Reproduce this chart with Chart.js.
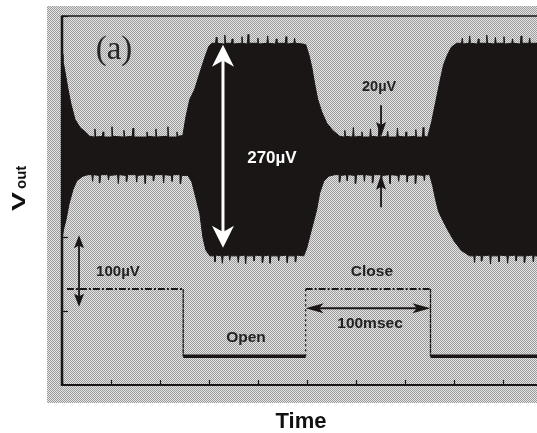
<!DOCTYPE html>
<html>
<head>
<meta charset="utf-8">
<script src="https://cdn.jsdelivr.net/npm/chart.js@4/dist/chart.umd.min.js"></script>
<style>
  html, body { margin: 0; padding: 0; background: #fff; overflow: hidden; }
  #wrap { width: 537px; height: 433px; }
</style>
</head>
<body>
<div id="wrap"><canvas id="scope" width="537" height="433"></canvas></div>
<script>
// Output noise envelope, upper edge: [time ms, voltage uV]
const upperEdge = [
  [0,448],[0.8,439],[2.4,425],[4.9,401],[7.3,381],[10.6,360],[14.7,349],[19.6,342],[22.5,337],
  [26.3,336],[26.9,347],[27.5,336],[32.9,337],[33.5,343],[34.1,336],[40.2,336],[40.8,350],[41.4,337],
  [50.0,336],[50.6,345],[51.2,336],[57.4,337],[58.0,348],[58.6,336],[68.8,336],[69.4,343],[70.0,337],
  [76.1,336],[76.7,347],[77.3,336],[85.9,337],[86.5,350],[87.1,336],[93.3,336],[93.9,343],[94.5,337],[98.7,338],
  [101.2,363],[104.4,387],[108.5,401],[112.6,423],[116.7,444],[120.0,459],[122.4,463],
  [125.4,463],[126.0,471],[126.6,463],[132.4,462],[133.0,474],[133.6,463],[138.4,463],[139.0,469],[139.6,462],
  [146.4,463],[147.0,472],[147.6,463],[151.4,462],[152.0,475],[152.6,463],[159.4,463],[160.0,470],[160.6,462],
  [167.4,463],[168.0,473],[168.6,463],[174.4,462],[175.0,469],[175.6,463],[182.4,463],[183.0,472],[183.6,462],
  [189.4,463],[190.0,470],[190.6,463],[196.7,462],
  [199.1,461],[201.6,448],[204.0,431],[206.4,408],[208.9,387],[212.2,370],[216.2,355],[221.1,345],[226.8,337],
  [230.4,336],[231.0,345],[231.6,337],[237.4,336],[238.0,349],[238.6,336],[244.4,337],[245.0,343],[245.6,336],
  [251.4,336],[252.0,347],[252.6,337],[258.4,336],[259.0,350],[259.6,336],[265.4,337],[266.0,344],[266.6,336],
  [273.4,336],[274.0,348],[274.6,337],[280.4,336],[281.0,343],[281.6,336],[288.4,337],[289.0,346],[289.6,336],
  [294.4,336],[295.0,349],[295.6,337],[298.7,336],
  [302.0,357],[305.2,383],[308.4,409],[311.7,434],[315.0,448],[318.2,458],[322.3,463],
  [326.4,463],[327.0,470],[327.6,462],[332.4,463],[333.0,473],[333.6,463],[339.4,462],[340.0,469],[340.6,463],
  [346.4,463],[347.0,474],[347.6,463],[353.4,462],[354.0,471],[354.6,463],[360.4,463],[361.0,472],[361.6,462],
  [367.4,463],[368.0,469],[368.6,463],[374.4,462],[375.0,473],[375.6,463],[381.4,463],[382.0,470],[382.6,463],[388,463]
];

// Output noise envelope, lower edge: [time ms, voltage uV]
const lowerEdge = [
  [0,200],[1.6,213],[3.3,224],[5.7,245],[9.0,265],[12.2,277],[17.1,283],[21.2,285],
  [24.4,285],[25.0,276],[25.6,285],[30.4,284],[31.0,274],[31.6,285],[37.4,285],[38.0,278],[38.6,284],
  [45.4,285],[46.0,273],[46.6,285],[52.4,284],[53.0,276],[53.6,285],[60.4,285],[61.0,275],[61.6,284],
  [67.4,285],[68.0,273],[68.6,285],[74.4,284],[75.0,277],[75.6,285],[82.4,285],[83.0,274],[83.6,285],
  [89.4,284],[90.0,276],[90.6,285],[96.4,285],[97.0,273],[97.6,284],[102.8,284],
  [106.1,275],[109.3,254],[112.6,232],[115.1,200],[117.5,183],[120.8,175],
  [124.4,175],[125.0,167],[125.6,176],[130.4,175],[131.0,165],[131.6,175],[136.4,176],[137.0,169],[137.6,175],
  [143.4,175],[144.0,166],[144.6,175],[149.4,176],[150.0,164],[150.6,175],[156.4,175],[157.0,168],[157.6,176],
  [163.4,175],[164.0,166],[164.6,175],[169.4,176],[170.0,165],[170.6,175],[176.4,175],[177.0,168],[177.6,175],
  [183.4,176],[184.0,166],[184.6,175],[190.4,175],[191.0,167],[191.6,176],[197.5,175],
  [200.0,186],[202.4,202],[205.6,222],[208.1,238],[210.5,260],[213.8,276],[217.9,283],[222.8,285],
  [226.4,285],[227.0,275],[227.6,284],[232.4,285],[233.0,277],[233.6,285],[239.4,284],[240.0,273],[240.6,285],
  [246.4,285],[247.0,276],[247.6,285],[253.4,284],[254.0,274],[254.6,285],[260.4,285],[261.0,278],[261.6,284],
  [267.4,285],[268.0,273],[268.6,285],[274.4,284],[275.0,276],[275.6,285],[281.4,285],[282.0,275],[282.6,284],
  [288.4,285],[289.0,273],[289.6,285],[295.4,284],[296.0,277],[296.6,285],[300.3,285],
  [302.8,270],[305.2,251],[307.6,235],[311.7,221],[315.8,208],[320.7,194],[326.4,182],[333.0,175],
  [336.4,175],[337.0,166],[337.6,176],[342.4,175],[343.0,168],[343.6,175],[349.4,176],[350.0,164],[350.6,175],
  [356.4,175],[357.0,167],[357.6,176],[363.4,175],[364.0,165],[364.6,175],[370.4,176],[371.0,168],[371.6,175],
  [377.4,175],[378.0,166],[378.6,175],[384.4,176],[385.0,167],[385.6,175],[388,175]
];

// Valve drive signal (Close = high level, Open = low level)
const pulseTime = [4, 99, 99, 199, 199, 301, 301, 388];
const pulseVolt = [130, 130, 39, 39, 130, 130, 39, 39];
const HIGH_LEVEL = 130;

// Axis divisions
const timeTicks = [0, 40, 80, 120, 160, 200, 240, 280, 320, 360];
const voltTicks = [100, 200, 300, 400, 500];

const INK = '#1b1616';

// closed outline of the noise band: upper edge left to right, lower edge back
const bandPoints = upperEdge.map(([t, v]) => ({ x: t, y: v }))
  .concat(lowerEdge.map(([t, v]) => ({ x: t, y: v })).reverse());
const pulsePoints = pulseTime.map((t, i) => ({ x: t, y: pulseVolt[i] }));

// halftone screen used for the paper background
function halftone(ctx) {
  const c = document.createElement('canvas');
  c.width = 2; c.height = 2;
  const g = c.getContext('2d');
  g.fillStyle = '#e4e4e4'; g.fillRect(0, 0, 2, 2);
  g.fillStyle = '#9c9c9c'; g.fillRect(0, 0, 1, 1); g.fillRect(1, 1, 1, 1);
  return ctx.createPattern(c, 'repeat');
}

function arrowHead(ctx, tx, ty, dx, dy, len, half, notch, color) {
  const bx = tx - dx * len, by = ty - dy * len;
  const px = -dy, py = dx;
  ctx.beginPath();
  ctx.moveTo(tx, ty);
  ctx.lineTo(bx + px * half, by + py * half);
  ctx.lineTo(tx - dx * len * (1 - notch), ty - dy * len * (1 - notch));
  ctx.lineTo(bx - px * half, by - py * half);
  ctx.closePath();
  ctx.fillStyle = color;
  ctx.fill();
}

function arrow(ctx, x1, y1, x2, y2, o) {
  const L = Math.hypot(x2 - x1, y2 - y1);
  const dx = (x2 - x1) / L, dy = (y2 - y1) / L;
  const s1 = o.both ? o.len * 0.7 : 0;
  ctx.beginPath();
  ctx.moveTo(x1 + dx * s1, y1 + dy * s1);
  ctx.lineTo(x2 - dx * o.len * 0.7, y2 - dy * o.len * 0.7);
  ctx.strokeStyle = o.color;
  ctx.lineWidth = o.width;
  ctx.stroke();
  arrowHead(ctx, x2, y2, dx, dy, o.len, o.half, o.notch, o.color);
  if (o.both) arrowHead(ctx, x1, y1, -dx, -dy, o.len, o.half, o.notch, o.color);
}

const scopePlugin = {
  id: 'scopeDecor',
  beforeDraw(chart) {
    const ctx = chart.ctx;
    ctx.save();
    ctx.fillStyle = halftone(ctx);
    ctx.fillRect(47, 6, 490, 397);
    ctx.restore();
  },
  beforeDatasetsDraw(chart) {
    const { ctx, chartArea: a, scales: { x, y } } = chart;
    ctx.save();
    ctx.strokeStyle = INK;
    ctx.lineWidth = 1.5;
    ctx.beginPath(); ctx.moveTo(a.left, a.top); ctx.lineTo(a.right, a.top); ctx.stroke();
    ctx.lineWidth = 2;
    ctx.beginPath(); ctx.moveTo(a.left - 1, a.bottom); ctx.lineTo(a.right, a.bottom); ctx.stroke();
    ctx.lineWidth = 1.2;
    timeTicks.forEach(t => {
      const px = Math.round(x.getPixelForValue(t)) + 0.5;
      ctx.beginPath(); ctx.moveTo(px, a.bottom); ctx.lineTo(px, a.bottom - 5); ctx.stroke();
    });
    voltTicks.forEach(v => {
      const py = Math.round(y.getPixelForValue(v)) + 0.5;
      ctx.beginPath(); ctx.moveTo(a.left, py); ctx.lineTo(a.left + 6, py); ctx.stroke();
    });
    ctx.restore();
  },
  afterDatasetsDraw(chart) {
    const { ctx, chartArea: a, scales: { x, y } } = chart;
    const X = t => x.getPixelForValue(t), Y = v => y.getPixelForValue(v);
    ctx.save();
    // left frame edge
    ctx.strokeStyle = INK;
    ctx.lineWidth = 2.5;
    ctx.beginPath(); ctx.moveTo(a.left, a.top - 0.5); ctx.lineTo(a.left, a.bottom + 1); ctx.stroke();

    // open-state amplitude
    arrow(ctx, X(131.5), Y(186), X(131.5), Y(461),
      { color: '#ffffff', width: 3, len: 22, half: 11, notch: 0.28, both: true });
    // closed-state amplitude
    arrow(ctx, X(260.6), Y(379), X(260.6), Y(336), { color: INK, width: 1.8, len: 15, half: 5, notch: 0.2 });
    arrow(ctx, X(260.6), Y(241), X(260.6), Y(285), { color: INK, width: 1.8, len: 15, half: 5, notch: 0.2 });
    // 100 uV scale bar
    arrow(ctx, X(13.9), Y(106), X(13.9), Y(203), { color: INK, width: 1.8, len: 13, half: 5, notch: 0.2, both: true });
    // 100 ms scale bar
    arrow(ctx, X(199), Y(104), X(301), Y(104), { color: INK, width: 2, len: 18, half: 5, notch: 0.25, both: true });

    ctx.textAlign = 'center';
    ctx.textBaseline = 'middle';
    ctx.fillStyle = '#ffffff';
    ctx.font = 'bold 17px "Liberation Sans", Arial, sans-serif';
    ctx.fillText('270\u00b5V', X(171.5), Y(307));
    ctx.fillStyle = '#222';
    ctx.font = 'bold 14.5px "Liberation Sans", Arial, sans-serif';
    ctx.fillText('20\u00b5V', X(259), Y(404));
    ctx.font = 'bold 15px "Liberation Sans", Arial, sans-serif';
    ctx.fillText('100\u00b5V', X(45.7), Y(153));
    ctx.font = 'bold 15.5px "Liberation Sans", Arial, sans-serif';
    ctx.fillText('Open', X(150.3), Y(64));
    ctx.fillText('Close', X(253.2), Y(153));
    ctx.fillText('100msec', X(251.6), Y(83));

    ctx.font = '33px "Liberation Serif", "Times New Roman", serif';
    ctx.fillStyle = '#262626';
    ctx.textBaseline = 'alphabetic';
    ctx.fillText('(a)', X(42.5), 59);

    // axis titles
    ctx.fillStyle = '#111';
    ctx.font = 'bold 22px "Liberation Sans", Arial, sans-serif';
    ctx.fillText('Time', 301, 428);

    ctx.translate(25, 211);
    ctx.rotate(-Math.PI / 2);
    ctx.textAlign = 'left';
    ctx.save();
    ctx.scale(1.5, 1);
    ctx.font = 'bold 19px "Liberation Sans", Arial, sans-serif';
    ctx.fillText('V', 0, 0);
    ctx.restore();
    ctx.font = 'bold 15px "Liberation Sans", Arial, sans-serif';
    ctx.fillText('out', 22, 1);
    ctx.restore();
  }
};

new Chart(document.getElementById('scope'), {
  type: 'line',
  data: {
    datasets: [
      {
        label: 'Vout noise',
        data: bandPoints,
        fill: 'shape',
        backgroundColor: INK,
        borderColor: INK,
        borderWidth: 1,
        pointRadius: 0,
        tension: 0
      },
      {
        label: 'Valve drive',
        data: pulsePoints,
        fill: false,
        borderColor: INK,
        pointRadius: 0,
        tension: 0,
        borderWidth: 3.5,
        segment: {
          borderWidth: c => c.p0.parsed.y !== c.p1.parsed.y ? 1.3
            : (c.p0.parsed.y >= HIGH_LEVEL ? 2 : 3.5),
          borderDash: c => c.p0.parsed.y !== c.p1.parsed.y ? [2, 3]
            : (c.p0.parsed.y >= HIGH_LEVEL ? [7, 2, 2, 2] : undefined)
        }
      }
    ]
  },
  options: {
    responsive: false,
    animation: false,
    devicePixelRatio: 1,
    layout: { padding: { left: 62, top: 16, right: 0, bottom: 48 } },
    scales: {
      x: { type: 'linear', min: 0, max: 388, display: false },
      y: { type: 'linear', min: 0, max: 500, display: false }
    },
    plugins: { legend: { display: false }, tooltip: { enabled: false } }
  },
  plugins: [scopePlugin]
});
</script>
</body>
</html>
